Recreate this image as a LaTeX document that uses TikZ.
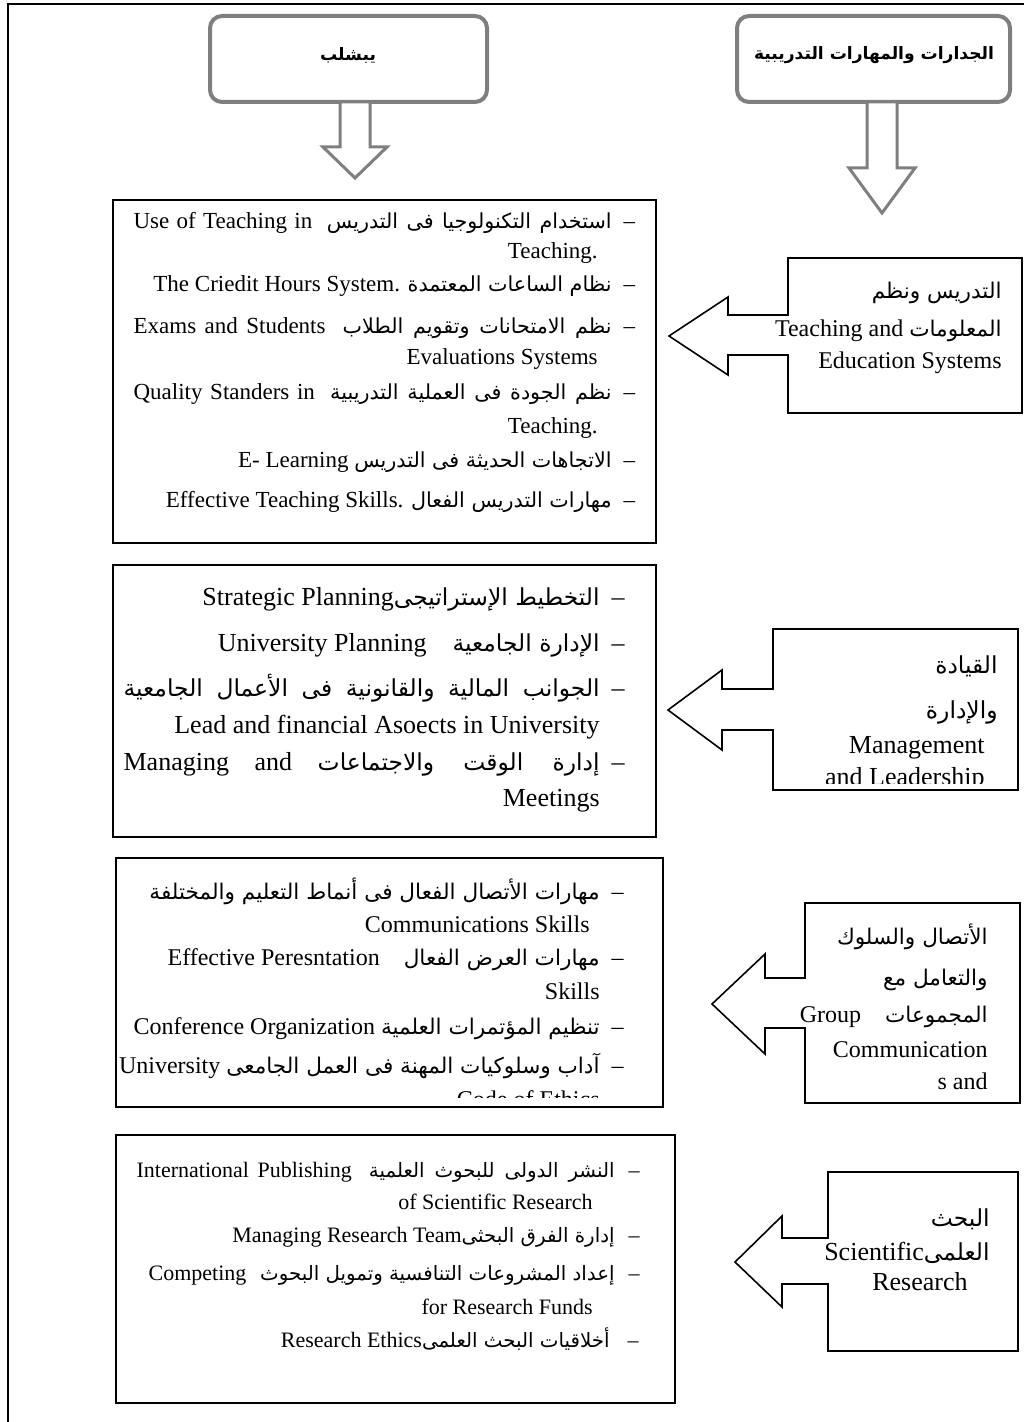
\documentclass[tikz,border=0pt]{standalone}
\usepackage{fontspec}
\setmainfont{Liberation Serif}
\newfontfamily\arabicfont[Script=Arabic,Scale=0.9]{DejaVu Sans}
\TeXXeTstate=1
\newcommand{\artxt}[1]{{\arabicfont\beginR #1\endR}}
\newcommand{\dsh}[1]{\rlap{\hspace{#1}–}}
\definecolor{boxgray}{RGB}{127,127,127}

\begin{document}
\begin{tikzpicture}[x=0.5pt, y=-0.5pt,
	txt/.style={anchor=base east, inner sep=0pt},
	fsmall/.style={txt, font=\fontsize{11}{13}\selectfont},
	fone/.style={txt, font=\fontsize{11.5}{13}\selectfont},
	fmid/.style={txt, font=\fontsize{12}{14}\selectfont},
	fbig/.style={txt, font=\fontsize{13}{15}\selectfont},
	title/.style={inner sep=0pt, font=\bfseries\fontsize{9.5}{12}\selectfont}]

	\useasboundingbox (0,0) rectangle (1023,1422);

	% frame
	\draw[line width=1.2pt] (1040,4) -- (8,4) -- (8,1440);

	% top boxes and arrows
	\draw[line width=2pt, boxgray, rounded corners=6pt] (210,16) rectangle (487,102);
	\draw[line width=2pt, boxgray, rounded corners=6pt] (737,16) rectangle (1010,102);
	\node[title] (ttlleft) at (348,55) {\artxt{يبشلب}};
	\node[title] (ttlright) at (874,55) {\artxt{الجدارات والمهارات التدريبية}};

	\draw[line width=1.5pt, boxgray, fill=white] (340,102) -- (370,102) -- (370,147) -- (387,147) -- (355,178) -- (323,147) -- (340,147) -- cycle;
	\draw[line width=1.5pt, boxgray, fill=white] (867,102) -- (897,102) -- (897,168) -- (915,168) -- (882,213) -- (849,168) -- (867,168) -- cycle;

	% teaching
	\draw[line width=1pt] (113,200) rectangle (656,543);
	\node[fone] (tuse) at (612,229) {\makebox[239pt][s]{Use of Teaching in \ \artxt{استخدام التكنولوجيا فى التدريس}}\dsh{6pt}};
	\node[fone] (tteach) at (598,259) {Teaching.};
	\node[fone] (thours) at (612,292) {The Criedit Hours System. \artxt{نظام الساعات المعتمدة}\dsh{6pt}};
	\node[fone] (texams) at (612,334) {\makebox[239pt][s]{Exams and Students \ \artxt{نظم الامتحانات وتقويم الطلاب}}\dsh{6pt}};
	\node[fone] (teval) at (598,365) {Evaluations Systems};
	\node[fone] (tqual) at (612,400) {\makebox[239pt][s]{Quality Standers in \ \artxt{نظم الجودة فى العملية التدريبية}}\dsh{6pt}};
	\node[fone] (tteachb) at (598,434) {Teaching.};
	\node[fone] (tlearn) at (612,467) {E- Learning \artxt{الاتجاهات الحديثة فى التدريس}\dsh{6pt}};
	\node[fone] (tskill) at (612,507) {Effective Teaching Skills. \artxt{مهارات التدريس الفعال}\dsh{6pt}};

	\draw[line width=0.8pt, fill=white] (788,258) -- (1022,258) -- (1022,413) -- (788,413) -- (788,355) -- (728,355) -- (728,375) -- (669,336) -- (728,297) -- (728,315) -- (788,315) -- cycle;
	\node[fmid] (cteach) at (1002,299) {\artxt{التدريس ونظم}};
	\node[fmid] (cteachb) at (1002,337) {Teaching and \artxt{المعلومات}};
	\node[fmid] (cteachc) at (1002,369) {Education Systems};

	% leadership
	\draw[line width=1pt] (113,565) rectangle (656,837);
	\node[fbig] (tstrat) at (600,605) {Strategic Planning\artxt{التخطيط الإستراتيجى}\dsh{6pt}};
	\node[fbig] (tuniv) at (600,651) {University Planning\quad\artxt{الإدارة الجامعية}\dsh{6pt}};
	\node[fbig] (tfin) at (600,696) {\makebox[238pt][s]{\artxt{الجوانب المالية والقانونية فى الأعمال الجامعية}}\dsh{6pt}};
	\node[fbig] (tlead) at (600,733) {Lead and financial Asoects in University};
	\node[fbig] (tmanag) at (600,770) {\makebox[238pt][s]{Managing and \artxt{إدارة الوقت والاجتماعات}}\dsh{6pt}};
	\node[fbig] (tmeet) at (600,806) {Meetings};

	\draw[line width=0.8pt, fill=white] (773,629) -- (1018,629) -- (1018,790) -- (773,790) -- (773,730) -- (722,730) -- (722,750) -- (668,710) -- (722,670) -- (722,689) -- (773,689) -- cycle;
	\node[fbig] (clead) at (998,673) {\artxt{القيادة}};
	\node[fbig] (cleadb) at (998,718) {\artxt{والإدارة}};
	\node[fbig] (cleadc) at (985,753) {Management};
	\begin{scope}
		\clip (773,629) rectangle (1018,783);
		\node[fbig] (cleadd) at (985,785) {and Leadership};
	\end{scope}

	% communication
	\draw[line width=1pt] (116,858) rectangle (663,1107);
	\node[fmid] (tcomm) at (600,899) {\artxt{مهارات الأتصال الفعال فى أنماط التعليم والمختلفة}\dsh{6pt}};
	\node[fmid] (tcommb) at (590,932) {Communications Skills};
	\node[fmid] (tpres) at (600,965) {Effective Peresntation\quad\artxt{مهارات العرض الفعال}\dsh{6pt}};
	\node[fmid] (tskills) at (600,999) {Skills};
	\node[fmid] (tconf) at (600,1034) {Conference Organization \artxt{تنظيم المؤتمرات العلمية}\dsh{6pt}};
	\node[fmid] (tethic) at (600,1073) {University \artxt{آداب وسلوكيات المهنة فى العمل الجامعى}\dsh{6pt}};
	\begin{scope}
		\clip (116,858) rectangle (663,1097);
		\node[fmid] (tcode) at (600,1107) {Code of Ethics};
	\end{scope}

	\draw[line width=0.8pt, fill=white] (805,903) -- (1020,903) -- (1020,1103) -- (805,1103) -- (805,1028) -- (765,1028) -- (765,1054) -- (712,1004) -- (765,954) -- (765,978) -- (805,978) -- cycle;
	\node[fmid] (cgroup) at (988,944) {\artxt{الأتصال والسلوك}};
	\node[fmid] (cgroupb) at (988,985) {\artxt{والتعامل مع}};
	\node[fmid] (cgroupc) at (988,1022) {Group\quad\artxt{المجموعات}};
	\node[fmid] (cgroupd) at (988,1057) {Communication};
	\node[fmid] (cgroupe) at (988,1089) {s and};

	% research
	\draw[line width=1pt] (116,1135) rectangle (675,1403);
	\node[fsmall] (tpubl) at (615,1177) {\makebox[239pt][s]{International Publishing \ \artxt{النشر الدولى للبحوث العلمية}}\dsh{7pt}};
	\node[fsmall] (tpublb) at (593,1209) {of Scientific Research};
	\node[fsmall] (tteam) at (615,1242) {Managing Research Team\artxt{إدارة الفرق البحثى}\dsh{7pt}};
	\node[fsmall] (tfund) at (615,1280) {\makebox[233pt]{Competing\hfill\artxt{إعداد المشروعات التنافسية وتمويل البحوث}}\dsh{7pt}};
	\node[fsmall] (tfundb) at (593,1314) {for Research Funds};
	\node[fsmall] (tethics) at (610,1347) {Research Ethics\artxt{أخلاقيات البحث العلمى}\dsh{9pt}};

	\draw[line width=0.8pt, fill=white] (828,1172) -- (1018,1172) -- (1018,1351) -- (828,1351) -- (828,1284) -- (782,1284) -- (782,1307) -- (735,1262) -- (782,1216) -- (782,1238) -- (828,1238) -- cycle;
	\node[fbig] (cres) at (990,1226) {\artxt{البحث}};
	\node[fbig] (cresb) at (990,1260) {Scientific\artxt{العلمى}};
	\node[fbig] (cresc) at (968,1290) {Research};

\end{tikzpicture}
\end{document}
